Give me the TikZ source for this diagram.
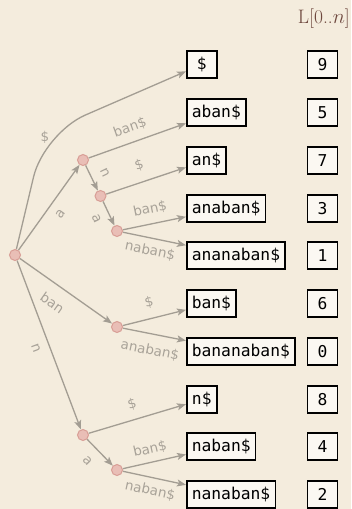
\documentclass[tikz,border=0pt]{standalone}
\usepackage{fontspec}
\newfontfamily\boxfont{DejaVu Sans Mono}
\newfontfamily\labfont{DejaVu Sans}
\usetikzlibrary{arrows.meta}
\definecolor{bg}{RGB}{244,236,221}
\definecolor{edgecol}{RGB}{163,157,147}
\definecolor{lblcol}{RGB}{168,162,152}
\definecolor{nfill}{RGB}{233,190,182}
\definecolor{ndraw}{RGB}{216,158,150}
\definecolor{boxfill}{RGB}{251,248,242}
\definecolor{hdrcol}{RGB}{110,72,62}
\tikzset{
  tn/.style={circle, minimum size=11pt, inner sep=0pt, fill=nfill, draw=ndraw, line width=1pt},
  sbox/.style={draw=black, line width=1.6pt, fill=boxfill, anchor=west, minimum width=30pt,
    minimum height=27pt, inner xsep=5pt, inner ysep=0pt, font=\boxfont\fontsize{16.3}{18}\selectfont},
  nbox/.style={sbox, anchor=center},
  edge/.style={draw=edgecol, line width=1.3pt, -{Stealth[length=9pt,width=7pt,inset=2pt]}},
  lbl/.style={font=\labfont\fontsize{13.5}{15}\selectfont, text=lblcol, inner sep=0pt, sloped},
  hdr/.style={font=\fontsize{19.5}{22}\selectfont, text=hdrcol, inner sep=0pt}
}
\begin{document}
\begin{tikzpicture}[x=1pt,y=-1pt]
\fill[bg] (0,0) rectangle (351,509);
\useasboundingbox (0,0) rectangle (351,509);

% header
\node[hdr, anchor=base east] (hd) at (350,23) {L[0..$n$]};

% tree nodes
\node[tn] (root) at (15,255) {};
\node[tn] (A) at (83,160) {};
\node[tn] (AN) at (100.5,196) {};
\node[tn] (ANA) at (117,231) {};
\node[tn] (BAN) at (117,327) {};
\node[tn] (N) at (83,435) {};
\node[tn] (NA) at (117,470) {};

% suffix boxes
\node[sbox] (s1) at (186,64.5) {\$};
\node[sbox] (s2) at (186,112.5) {aban\$};
\node[sbox] (s3) at (186,160.5) {an\$};
\node[sbox] (s4) at (186,208.5) {anaban\$};
\node[sbox] (s5) at (186,255.5) {ananaban\$};
\node[sbox] (s6) at (186,303.5) {ban\$};
\node[sbox] (s7) at (186,351.5) {bananaban\$};
\node[sbox] (s8) at (186,399.5) {n\$};
\node[sbox] (s9) at (186,446.5) {naban\$};
\node[sbox] (s10) at (186,494.5) {nanaban\$};

% index boxes
\node[nbox] (i1) at (322.5,64.5) {9};
\node[nbox] (i2) at (322.5,112.5) {5};
\node[nbox] (i3) at (322.5,160.5) {7};
\node[nbox] (i4) at (322.5,208.5) {3};
\node[nbox] (i5) at (322.5,255.5) {1};
\node[nbox] (i6) at (322.5,303.5) {6};
\node[nbox] (i7) at (322.5,351.5) {0};
\node[nbox] (i8) at (322.5,399.5) {8};
\node[nbox] (i9) at (322.5,446.5) {4};
\node[nbox] (i10) at (322.5,494.5) {2};

% curved edge to $
\coordinate (bend) at (44,133);
\draw[edge, rounded corners=45pt] (root) -- (bend) -- (s1);
\node[lbl, sloped=false] (ldollar) at (45,137) {\$};

% internal edges
\draw[edge] (root) -- node[lbl, pos=0.516, below=8.3pt] {a} (A);
\draw[edge] (A) -- node[lbl, pos=0.53, above=9.8pt] {n} (AN);
\draw[edge] (AN) -- node[lbl, pos=0.47, below=8.6pt] {a} (ANA);
\draw[edge] (root) -- node[lbl, pos=0.46, below=11.4pt] {ban} (BAN);
\draw[edge] (root) -- node[lbl, pos=0.49, below=8.8pt] {n} (N);
\draw[edge] (N) -- node[lbl, pos=0.42, below=10.1pt] {a} (NA);

% leaf edges
\draw[edge] (A) -- node[lbl, pos=0.476, above=8.1pt] {ban\$} (s2);
\draw[edge] (AN) -- node[lbl, pos=0.48, above=9.9pt] {\$} (s3);
\draw[edge] (ANA) -- node[lbl, pos=0.478, above=7.9pt] {ban\$} (s4);
\draw[edge] (ANA) -- node[lbl, pos=0.47, below=5.9pt] {naban\$} (s5);
\draw[edge] (BAN) -- node[lbl, pos=0.477, above=9.4pt] {\$} (s6);
\draw[edge] (BAN) -- node[lbl, pos=0.48, below=9.9pt] {anaban\$} (s7);
\draw[edge] (N) -- node[lbl, pos=0.49, above=8.4pt] {\$} (s8);
\draw[edge] (NA) -- node[lbl, pos=0.475, above=6.3pt] {ban\$} (s9);
\draw[edge] (NA) -- node[lbl, pos=0.475, below=6.5pt] {naban\$} (s10);
\end{tikzpicture}
\end{document}
